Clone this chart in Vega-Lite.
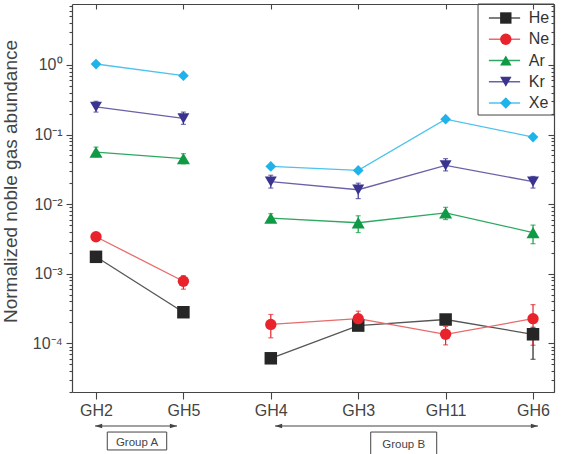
{
  "$schema": "https://vega.github.io/schema/vega-lite/v6.json",
  "width": 482,
  "height": 388,
  "autosize": {"type": "none"},
  "padding": {"left": 72, "top": 4, "right": 10, "bottom": 62},
  "background": "white",
  "config": {
    "font": "Liberation Sans",
    "view": {"stroke": null},
    "axis": {"grid": false, "domainColor": "#444", "tickColor": "#444", "domainWidth": 1.2, "tickWidth": 1.1}
  },
  "datasets": {
    "main": [
      {"sample": "GH2", "pos": 1, "set": "A", "element": "He", "value": 0.00175},
      {"sample": "GH5", "pos": 2, "set": "A", "element": "He", "value": 0.00028},
      {"sample": "GH4", "pos": 3, "set": "B", "element": "He", "value": 0.000061},
      {"sample": "GH3", "pos": 4, "set": "B", "element": "He", "value": 0.00018},
      {"sample": "GH11", "pos": 5, "set": "B", "element": "He", "value": 0.00022},
      {"sample": "GH6", "pos": 6, "set": "B", "element": "He", "value": 0.000135, "lo": 0.000059, "hi": 0.00017},
      {"sample": "GH2", "pos": 1, "set": "A", "element": "Ne", "value": 0.0034},
      {"sample": "GH5", "pos": 2, "set": "A", "element": "Ne", "value": 0.00078, "lo": 0.0006, "hi": 0.00094},
      {"sample": "GH4", "pos": 3, "set": "B", "element": "Ne", "value": 0.000187, "lo": 0.00012, "hi": 0.00026},
      {"sample": "GH3", "pos": 4, "set": "B", "element": "Ne", "value": 0.000226, "lo": 0.000185, "hi": 0.00029},
      {"sample": "GH11", "pos": 5, "set": "B", "element": "Ne", "value": 0.000135, "lo": 0.000095, "hi": 0.000175},
      {"sample": "GH6", "pos": 6, "set": "B", "element": "Ne", "value": 0.000226, "lo": 0.000094, "hi": 0.00036},
      {"sample": "GH2", "pos": 1, "set": "A", "element": "Ar", "value": 0.056, "lo": 0.048, "hi": 0.066},
      {"sample": "GH5", "pos": 2, "set": "A", "element": "Ar", "value": 0.045, "lo": 0.038, "hi": 0.053},
      {"sample": "GH4", "pos": 3, "set": "B", "element": "Ar", "value": 0.0063, "lo": 0.0055, "hi": 0.0073},
      {"sample": "GH3", "pos": 4, "set": "B", "element": "Ar", "value": 0.0054, "lo": 0.0039, "hi": 0.0068},
      {"sample": "GH11", "pos": 5, "set": "B", "element": "Ar", "value": 0.0075, "lo": 0.006, "hi": 0.009},
      {"sample": "GH6", "pos": 6, "set": "B", "element": "Ar", "value": 0.0039, "lo": 0.0027, "hi": 0.005},
      {"sample": "GH2", "pos": 1, "set": "A", "element": "Kr", "value": 0.25, "lo": 0.21, "hi": 0.3},
      {"sample": "GH5", "pos": 2, "set": "A", "element": "Kr", "value": 0.17, "lo": 0.14, "hi": 0.21},
      {"sample": "GH4", "pos": 3, "set": "B", "element": "Kr", "value": 0.021, "lo": 0.017, "hi": 0.026},
      {"sample": "GH3", "pos": 4, "set": "B", "element": "Kr", "value": 0.0161, "lo": 0.012, "hi": 0.02},
      {"sample": "GH11", "pos": 5, "set": "B", "element": "Kr", "value": 0.036, "lo": 0.03, "hi": 0.045},
      {"sample": "GH6", "pos": 6, "set": "B", "element": "Kr", "value": 0.021, "lo": 0.017, "hi": 0.025},
      {"sample": "GH2", "pos": 1, "set": "A", "element": "Xe", "value": 1.03},
      {"sample": "GH5", "pos": 2, "set": "A", "element": "Xe", "value": 0.7},
      {"sample": "GH4", "pos": 3, "set": "B", "element": "Xe", "value": 0.0348},
      {"sample": "GH3", "pos": 4, "set": "B", "element": "Xe", "value": 0.0305},
      {"sample": "GH11", "pos": 5, "set": "B", "element": "Xe", "value": 0.166},
      {"sample": "GH6", "pos": 6, "set": "B", "element": "Xe", "value": 0.092}
    ],
    "groups": [
      {"group": "Group A", "start": 0.989, "end": 1.927, "arrowY": 0.0000065, "boxLeft": 1.129, "boxRight": 1.809, "boxTop": 0.00000532, "boxBottom": 0.00000294, "mid": 1.469, "textY": 0.00000374},
      {"group": "Group B", "start": 3.048, "end": 6.057, "arrowY": 0.0000065, "boxLeft": 4.143, "boxRight": 4.898, "boxTop": 0.00000532, "boxBottom": 0.0000024, "mid": 4.52, "textY": 0.00000346}
    ],
    "legendFrame": [
      {"left": 5.371, "right": 6.24, "top": 7.5, "bottom": 0.1906}
    ]
  },
  "layer": [
    {
      "data": {"name": "main"},
      "mark": {"type": "line", "strokeWidth": 1.3},
      "encoding": {
        "x": {"field": "pos", "type": "quantitative",
          "scale": {"domain": [0.7254, 6.24], "nice": false, "zero": false},
          "axis": {"orient": "bottom", "values": [1, 2, 3, 4, 5, 6], "title": null,
            "labelExpr": "['','GH2','GH5','GH4','GH3','GH11','GH6'][round(datum.value)]",
            "tickSize": 7, "labelFontSize": 16, "labelColor": "#444", "labelPadding": 3, "labelFlush": false}},
        "y": {"field": "value", "type": "quantitative",
          "scale": {"type": "log", "domain": [0.00002, 7.5], "nice": false},
          "axis": {"orient": "left", "title": "Normalized noble gas abundance",
            "titleFontSize": 19, "titleFontWeight": "normal", "titleColor": "#444",
            "titleY": 177, "titleX": -52,
            "values": [0.00002,0.00003,0.00004,0.00005,0.00006,0.00007,0.00008,0.00009,0.0001,0.0002,0.0003,0.0004,0.0005,0.0006,0.0007,0.0008,0.0009,0.001,0.002,0.003,0.004,0.005,0.006,0.007,0.008,0.009,0.01,0.02,0.03,0.04,0.05,0.06,0.07,0.08,0.09,0.1,0.2,0.3,0.4,0.5,0.6,0.7,0.8,0.9,1,2,3,4,5,6,7],
            "labelExpr": "abs(log(datum.value)/LN10 - round(log(datum.value)/LN10)) < 0.01 ? ['10⁰','10⁻¹','10⁻²','10⁻³','10⁻⁴','10⁻⁵'][abs(round(log(datum.value)/LN10))] : ''",
            "labelOverlap": false, "labelFlush": false, "labelFontSize": 16, "labelColor": "#444", "labelPadding": 4,
            "tickSize": {"condition": {"test": "abs(log(datum.value)/LN10 - round(log(datum.value)/LN10)) < 0.01", "value": 6}, "value": 3}}},
        "detail": {"field": "set", "type": "nominal"},
        "stroke": {"field": "element", "type": "nominal", "sort": ["He", "Ne", "Ar", "Kr", "Xe"],
          "scale": {"range": ["#555555", "#e86a6a", "#2ea860", "#6a62a8", "#4cc3ee"]},
          "legend": {"orient": "none", "legendX": 405.5, "legendY": 1, "title": null, "labelExpr": "''",
            "symbolType": "M-2.6,0H2.6", "symbolSize": 144, "symbolStrokeWidth": 1.3,
            "padding": 5, "symbolOffset": 14, "rowPadding": 5.25, "labelFontSize": 16}}
      }
    },
    {
      "data": {"name": "main"},
      "transform": [{"filter": "datum.lo != null"}],
      "mark": {"type": "errorbar", "ticks": true, "thickness": 1.2},
      "encoding": {
        "x": {"field": "pos", "type": "quantitative", "axis": null},
        "y": {"field": "lo", "type": "quantitative", "axis": null},
        "y2": {"field": "hi"},
        "color": {"field": "element", "type": "nominal",
          "scale": {"domain": ["Ar", "He", "Kr", "Ne", "Xe"], "range": ["#119a46", "#262626", "#3a3490", "#e8232b", "#1fb3ec"]},
          "legend": null}
      }
    },
    {
      "data": {"name": "main"},
      "mark": {"type": "point", "filled": true, "opacity": 1, "strokeWidth": 0},
      "encoding": {
        "x": {"field": "pos", "type": "quantitative",
          "axis": {"orient": "top", "values": [1, 2, 3, 4, 5, 6], "labels": false, "title": null, "tickSize": -5}},
        "y": {"field": "value", "type": "quantitative",
          "axis": {"orient": "right", "labels": false, "title": null,
            "values": [0.00002,0.00003,0.00004,0.00005,0.00006,0.00007,0.00008,0.00009,0.0001,0.0002,0.0003,0.0004,0.0005,0.0006,0.0007,0.0008,0.0009,0.001,0.002,0.003,0.004,0.005,0.006,0.007,0.008,0.009,0.01,0.02,0.03,0.04,0.05,0.06,0.07,0.08,0.09,0.1,0.2,0.3,0.4,0.5,0.6,0.7,0.8,0.9,1,2,3,4,5,6,7],
            "tickSize": {"condition": {"test": "abs(log(datum.value)/LN10 - round(log(datum.value)/LN10)) < 0.01", "value": -6}, "value": -3}}},
        "fill": {"field": "element", "type": "nominal",
          "scale": {"domain": ["He", "Ne", "Ar", "Kr", "Xe"], "range": ["#262626", "#e8232b", "#119a46", "#3a3490", "#1fb3ec"]},
          "legend": {"orient": "none", "legendX": 439.8, "legendY": 6, "title": null,
            "labelFontSize": 16, "labelColor": "#333", "symbolSize": 130, "symbolStrokeWidth": 0,
            "padding": 0, "symbolOffset": -14, "labelOffset": 15, "rowPadding": 5.25}},
        "shape": {"field": "element", "type": "nominal",
          "scale": {"domain": ["He", "Ne", "Ar", "Kr", "Xe"], "range": ["square", "circle", "triangle-up", "triangle-down", "diamond"]}},
        "size": {"field": "element", "type": "nominal",
          "scale": {"domain": ["Ar", "He", "Kr", "Ne", "Xe"], "range": [170, 115, 170, 150, 180]}, "legend": null}
      }
    },
    {
      "data": {"name": "legendFrame"},
      "mark": {"type": "rect", "fill": null, "fillOpacity": 0, "stroke": "#444", "strokeWidth": 1},
      "encoding": {
        "x": {"field": "left", "type": "quantitative", "axis": null},
        "x2": {"field": "right"},
        "y": {"field": "top", "type": "quantitative", "axis": null},
        "y2": {"field": "bottom"}
      }
    },
    {
      "data": {"name": "groups"},
      "mark": {"type": "rule", "stroke": "#444", "strokeWidth": 1.2},
      "encoding": {
        "x": {"field": "start", "type": "quantitative", "axis": null},
        "x2": {"field": "end"},
        "y": {"field": "arrowY", "type": "quantitative", "axis": null}
      }
    },
    {
      "data": {"name": "groups"},
      "mark": {"type": "point", "filled": true, "opacity": 1, "color": "#444", "shape": "M0,0L2.6,-0.8L2.6,0.8Z", "size": 30, "strokeWidth": 0},
      "encoding": {
        "x": {"field": "start", "type": "quantitative", "axis": null},
        "y": {"field": "arrowY", "type": "quantitative", "axis": null}
      }
    },
    {
      "data": {"name": "groups"},
      "mark": {"type": "point", "filled": true, "opacity": 1, "color": "#444", "shape": "M0,0L-2.6,-0.8L-2.6,0.8Z", "size": 30, "strokeWidth": 0},
      "encoding": {
        "x": {"field": "end", "type": "quantitative", "axis": null},
        "y": {"field": "arrowY", "type": "quantitative", "axis": null}
      }
    },
    {
      "data": {"name": "groups"},
      "mark": {"type": "rect", "fill": "white", "stroke": "#444", "strokeWidth": 1},
      "encoding": {
        "x": {"field": "boxLeft", "type": "quantitative", "axis": null},
        "x2": {"field": "boxRight"},
        "y": {"field": "boxTop", "type": "quantitative", "axis": null},
        "y2": {"field": "boxBottom"}
      }
    },
    {
      "data": {"name": "groups"},
      "mark": {"type": "text", "fontSize": 11.5, "color": "#444", "baseline": "middle", "align": "center"},
      "encoding": {
        "x": {"field": "mid", "type": "quantitative", "axis": null},
        "y": {"field": "textY", "type": "quantitative", "axis": null},
        "text": {"field": "group"}
      }
    }
  ],
  "resolve": {"axis": {"x": "independent", "y": "independent"}}
}
